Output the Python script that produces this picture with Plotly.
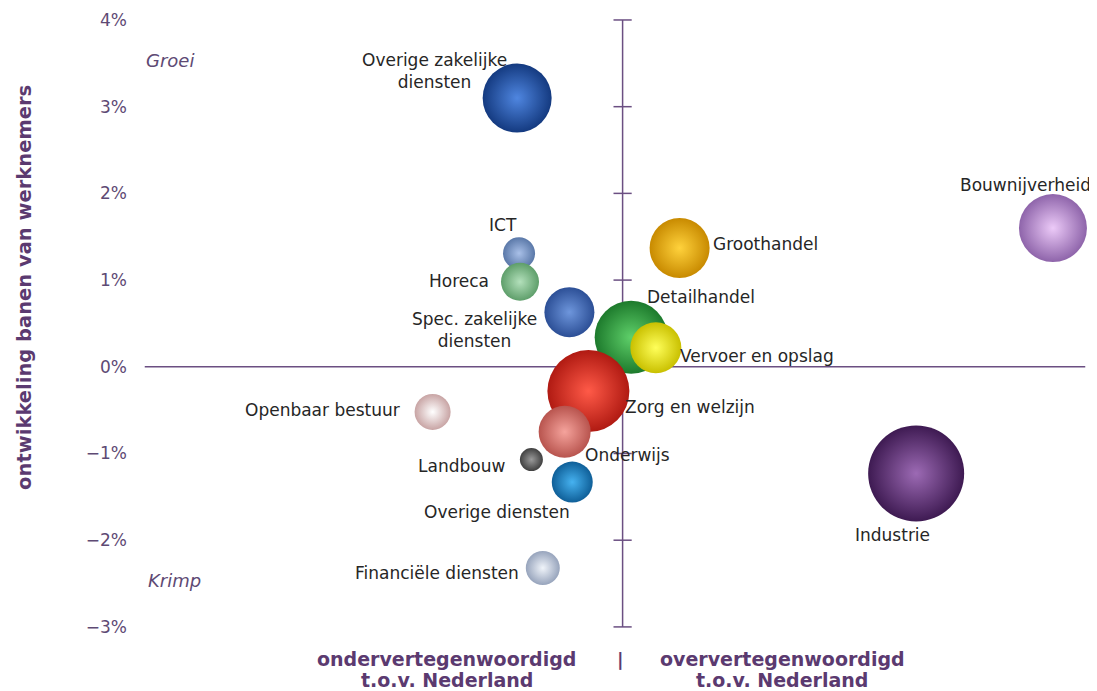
import plotly.graph_objects as go

# sectoren: locatiequotient t.o.v. Nederland (x), banengroei in % (y), omvang (bubbelgrootte)
sectors = ["Overige zakelijke diensten", "ICT", "Horeca", "Spec. zakelijke diensten",
           "Groothandel", "Detailhandel", "Vervoer en opslag", "Zorg en welzijn",
           "Openbaar bestuur", "Onderwijs", "Landbouw", "Overige diensten",
           "Financiële diensten", "Industrie", "Bouwnijverheid"]
labels = ["Overige zakelijke<br>diensten", "ICT", "Horeca", "Spec. zakelijke<br>diensten",
          "Groothandel", "Detailhandel", "Vervoer en opslag", "Zorg en welzijn",
          "Openbaar bestuur", "Onderwijs", "Landbouw", "Overige diensten",
          "Financiële diensten", "Industrie", "Bouwnijverheid"]
lq = [0.889, 0.891, 0.892, 0.944, 1.060, 1.009, 1.035, 0.964,
      0.800, 0.939, 0.904, 0.947, 0.916, 1.309, 1.453]
growth = [3.10, 1.31, 0.98, 0.63, 1.37, 0.34, 0.22, -0.28,
          -0.52, -0.75, -1.07, -1.33, -2.32, -1.23, 1.60]
size = [69, 32, 38, 50, 60, 73, 51, 82, 36, 52, 23, 41, 34, 96, 68]

y_ticks = [-3, -2, -1, 0, 1, 2, 3, 4]
y_ticktext = ["\u22123%", "\u22122%", "\u22121%", "0%", "1%", "2%", "3%", "4%"]

# kleuren: rand (donker) en glans (licht)
edge_colors = ["#143a80", "#5a78a8", "#5e9e6a", "#2c4f96", "#c88a00", "#1d7a2c", "#c9c000",
               "#b01a12", "#c8a4a4", "#b8544e", "#404040", "#0f5f98", "#97a4bc", "#3e1a52", "#8e64aa"]
light_colors = ["#4f86e0", "#a9c0e8", "#b3e0bb", "#6e96dc", "#ffd23c", "#5fd06a", "#ffff5a",
                "#ff5a48", "#ffffff", "#f5a39c", "#9a9a9a", "#46b2f0", "#f0f4fa", "#9c6ab4", "#eccaf8"]

# label plaatsing t.o.v. bubbel: (xanchor, xshift, yshift) in pixels
label_pos = {
    "Overige zakelijke diensten": ("center", -83, 27),
    "ICT": ("center", -16, 28),
    "Horeca": ("right", -29, 1),
    "Spec. zakelijke diensten": ("center", -95, -18),
    "Groothandel": ("left", 31, 4),
    "Detailhandel": ("left", 14, 40),
    "Vervoer en opslag": ("left", 22, -8),
    "Zorg en welzijn": ("left", 35, -16),
    "Openbaar bestuur": ("right", -31, 2),
    "Onderwijs": ("left", 18, -23),
    "Landbouw": ("right", -24, -6),
    "Overige diensten": ("center", -75, -30),
    "Financiële diensten": ("right", -22, -5),
    "Industrie": ("center", -24, -62),
    "Bouwnijverheid": ("center", -27, 43),
}

# teksten onder de grafiek: (x in paper, regel 1, regel 2)
bottom_texts = [
    (0.323, "ondervertegenwoordigd", "t.o.v. Nederland"),
    (0.676, "oververtegenwoordigd", "t.o.v. Nederland"),
]

AXIS_COLOR = "#6b4f82"
TEXT_PURPLE = "#5b3a70"
FONT = "DejaVu Sans"

fig = go.Figure()

# tick streepjes op de verticale as
fig.add_trace(go.Scatter(
    x=[1] * len(y_ticks),
    y=y_ticks,
    mode="markers",
    marker=dict(symbol="line-ew", size=13, line=dict(color=AXIS_COLOR, width=1.5)),
    hoverinfo="skip",
    showlegend=False
))

fig.add_trace(go.Scatter(
    x=lq,
    y=growth,
    mode="markers",
    text=sectors,
    marker=dict(
        size=size,
        sizemode="diameter",
        color=edge_colors,
        gradient=dict(type="radial", color=light_colors),
        line=dict(width=0),
        opacity=1
    ),
    hovertemplate="<b>%{text}</b><br>Groei: %{y:.1f}%<extra></extra>",
    showlegend=False
))

# assen door het midden
fig.add_shape(type="line", xref="paper", yref="y", x0=0.005, x1=0.995, y0=0, y1=0,
              line=dict(color=AXIS_COLOR, width=1.5), layer="below")
fig.add_shape(type="line", xref="x", yref="y", x0=1, x1=1, y0=min(y_ticks), y1=max(y_ticks),
              line=dict(color=AXIS_COLOR, width=1.5), layer="below")

for name, lab, xv, yv in zip(sectors, labels, lq, growth):
    anchor, dx, dy = label_pos[name]
    fig.add_annotation(x=xv, y=yv, text=lab, showarrow=False, xanchor=anchor, yanchor="middle",
                       xshift=dx, yshift=dy, align="center",
                       font=dict(family=FONT, size=17, color="#262626"))

fig.add_annotation(x=0.004, y=3.53, xref="paper", yref="y", text="<i>Groei</i>", showarrow=False,
                   xanchor="left", font=dict(family=FONT, size=18, color="#5e4a74"))
fig.add_annotation(x=0.006, y=-2.46, xref="paper", yref="y", text="<i>Krimp</i>", showarrow=False,
                   xanchor="left", font=dict(family=FONT, size=18, color="#5e4a74"))

fig.add_annotation(x=-0.121, y=0.559, xref="paper", yref="paper", textangle=-90,
                   xanchor="center", yanchor="middle",
                   text="<b>ontwikkeling banen van werknemers</b>", showarrow=False,
                   font=dict(family=FONT, size=19.5, color=TEXT_PURPLE))

for xp, line1, line2 in bottom_texts:
    fig.add_annotation(x=xp, y=0, xref="paper", yref="paper", xanchor="center", yanchor="middle",
                       yshift=-19, text="<b>" + line1 + "</b>", showarrow=False,
                       font=dict(family=FONT, size=19, color=TEXT_PURPLE))
    fig.add_annotation(x=xp, y=0, xref="paper", yref="paper", xanchor="center", yanchor="middle",
                       yshift=-40, text="<b>" + line2 + "</b>", showarrow=False,
                       font=dict(family=FONT, size=19, color=TEXT_PURPLE))
fig.add_annotation(x=0.506, y=0, xref="paper", yref="paper", xanchor="center", yanchor="middle",
                   yshift=-19, text="<b>|</b>", showarrow=False,
                   font=dict(family=FONT, size=18, color=TEXT_PURPLE))

# de pagina heeft 8px marge rond de figuur
fig.update_layout(
    width=1089,
    height=683,
    margin=dict(l=132, r=7, t=2, b=51),
    plot_bgcolor="white",
    paper_bgcolor="white",
    xaxis=dict(range=[0.492, 1.492], visible=False),
    yaxis=dict(
        range=[-3.151, 4.115],
        tickvals=y_ticks,
        ticktext=y_ticktext,
        ticks="",
        ticklabelstandoff=12,
        showgrid=False,
        zeroline=False,
        showline=False,
        tickfont=dict(family=FONT, size=17, color="#5e4a74")
    ),
    showlegend=False
)

fig.write_html("out.html")
